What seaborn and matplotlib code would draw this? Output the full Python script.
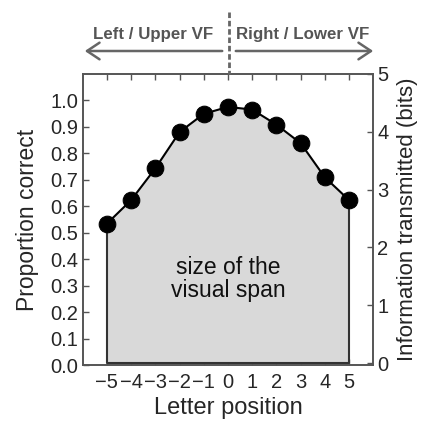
import matplotlib
matplotlib.use("Agg")
import matplotlib.pyplot as plt
import seaborn as sns
import pandas as pd
import numpy as np

positions = [-5, -4, -3, -2, -1, 0, 1, 2, 3, 4, 5]
proportion = [0.534, 0.623, 0.743, 0.880, 0.949, 0.975, 0.965, 0.908, 0.838, 0.709, 0.623]
left_ticks = [0.0, 0.1, 0.2, 0.3, 0.4, 0.5, 0.6, 0.7, 0.8, 0.9, 1.0]
right_ticks = [0, 1, 2, 3, 4, 5]

sns.set_theme(style="ticks")
plt.rcParams['font.family'] = ['Liberation Sans', 'DejaVu Sans']

df = pd.DataFrame({"pos": positions, "prop": proportion})

fig = plt.figure(figsize=(4.23, 4.22), dpi=100)
ax = fig.add_axes([0.1955, 0.135, 0.687, 0.69])

ax.fill_between(df["pos"], df["prop"], 0.006, facecolor="#d9d9d9", edgecolor="none", zorder=1)
ax.plot([positions[0], positions[0], positions[-1], positions[-1]],
        [proportion[0], 0.006, 0.006, proportion[-1]], color="#333333", lw=1.5, zorder=2)
sns.lineplot(data=df, x="pos", y="prop", ax=ax, color="black", lw=1.5,
             marker="o", markersize=12, markeredgecolor="black", zorder=3)

ax.set_xlim(-6, 6)
ax.set_ylim(0, 1.1)
ax.set_xticks(positions)
ax.set_xticklabels(["\u2212%d" % -p if p < 0 else str(p) for p in positions])
ax.set_yticks(left_ticks)
ax.set_yticklabels(["%.1f" % t for t in left_ticks])
ax.tick_params(axis="both", direction="in", length=4, width=1, color="#555555",
               labelsize=14.5, pad=3)
ax.tick_params(axis="x", top=True, bottom=True, pad=6)
ax.set_xlabel("Letter position", fontsize=17, labelpad=3)
ax.set_ylabel("Proportion correct", fontsize=16.5, labelpad=8)
for s in ax.spines.values():
    s.set_color("#555555")
    s.set_linewidth(1.2)

ax2 = ax.twinx()
ax2.set_ylim(-0.035, 5)
ax2.set_yticks(right_ticks)
ax2.tick_params(axis="y", direction="in", length=4, width=1, color="#555555",
                labelsize=14.5, pad=3)
ax2.tick_params(axis="x", top=False, bottom=False, labeltop=False, labelbottom=False)
ax2.set_ylabel("Information transmitted (bits)", fontsize=16, labelpad=6)
for s in ax2.spines.values():
    s.set_color("#555555")
    s.set_linewidth(1.2)

ax.text(0, 0.325, "size of the\nvisual span", ha="center", va="center",
        fontsize=16.5, linespacing=1.0, color="#111111")

# top annotations
gray = "#666666"
fig.text(153 / 423, 1 - 34 / 422, "Left / Upper VF", ha="center", va="center",
         fontsize=12.2, fontweight="bold", color="#555555")
fig.text(303 / 423, 1 - 34 / 422, "Right / Lower VF", ha="center", va="center",
         fontsize=12.2, fontweight="bold", color="#555555")
ya = 1 - 51 / 422
fig.add_artist(matplotlib.patches.FancyArrowPatch(
    (225 / 423, ya), (82 / 423, ya), transform=fig.transFigure,
    arrowstyle="->,head_length=6,head_width=4", color=gray, lw=1.8, mutation_scale=1.5))
fig.add_artist(matplotlib.patches.FancyArrowPatch(
    (233 / 423, ya), (376 / 423, ya), transform=fig.transFigure,
    arrowstyle="->,head_length=6,head_width=4", color=gray, lw=1.8, mutation_scale=1.5))
fig.add_artist(matplotlib.lines.Line2D([229 / 423, 229 / 423], [1 - 12 / 422, 1 - 74 / 422],
                                       transform=fig.transFigure, color=gray, lw=2,
                                       linestyle=(0, (2, 1))))

fig.savefig("out.png", dpi=100)
